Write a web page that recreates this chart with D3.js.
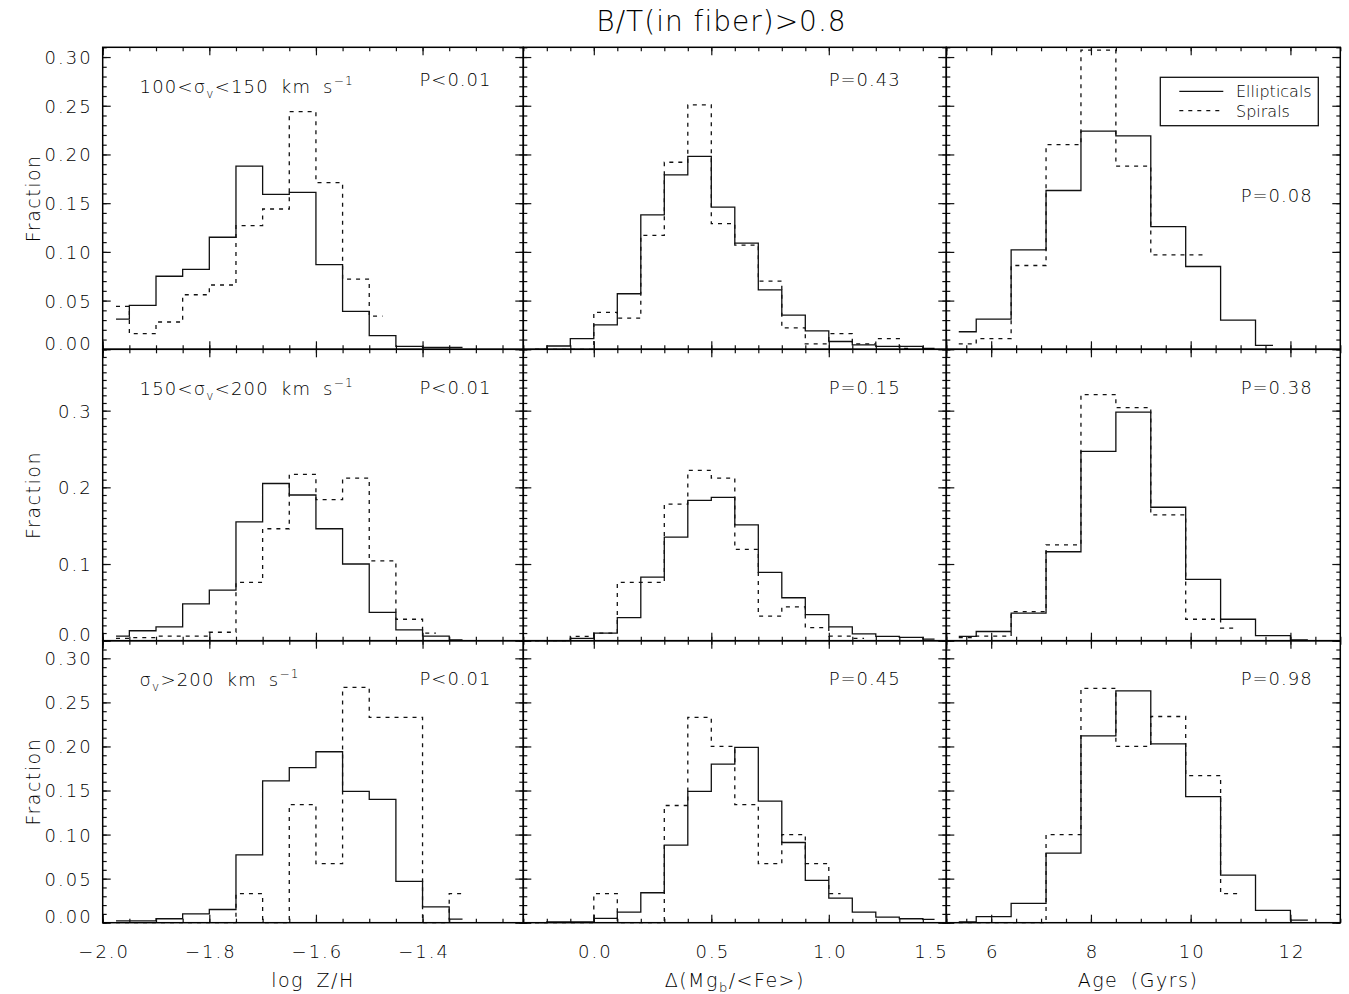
<!DOCTYPE html>
<html>
<head>
<meta charset="utf-8">
<script src="https://cdn.jsdelivr.net/npm/d3@7"></script>
<style>
  html, body { margin: 0; padding: 0; background: #fff; }
  svg text { font-family: "DejaVu Sans", "Liberation Sans", sans-serif; fill: #000; font-weight: 300; }
</style>
</head>
<body>
<div id="chart"></div>
<script>
'use strict';

// bin centres of each column (histograms drawn in step mode)
const zhBins  = [-1.975, -1.925, -1.875, -1.825, -1.775, -1.725, -1.675, -1.625, -1.575, -1.525, -1.475, -1.425, -1.375, -1.325];
const mgBins  = [-0.25, -0.15, -0.05, 0.05, 0.15, 0.25, 0.35, 0.45, 0.55, 0.65, 0.75, 0.85, 0.95, 1.05, 1.15, 1.25, 1.35, 1.45];
const ageBins = [5.35, 6.05, 6.75, 7.45, 8.15, 8.85, 9.55, 10.25, 10.95, 11.65, 12.35];

// row 1: 100 < sigma < 150
const ellZh1  = [0.031, 0.045, 0.075, 0.082, 0.115, 0.188, 0.159, 0.161, 0.087, 0.039, 0.014, 0.003, 0.002, 0.002];
const spiZh1  = [0.044, 0.016, 0.028, 0.056, 0.066, 0.127, 0.144, 0.244, 0.171, 0.072, 0.034];
const ellMg1  = [0, 0.0034, 0.011, 0.025, 0.057, 0.138, 0.179, 0.198, 0.146, 0.109, 0.061, 0.035, 0.019, 0.008, 0.0045, 0.003, 0.003, 0.001];
const spiMg1  = [0, 0, 0, 0.038, 0.032, 0.117, 0.192, 0.251, 0.129, 0.107, 0.070, 0.022, 0.0055, 0.016, 0.0055, 0.011, 0.001];
const ellAge1 = [0.018, 0.031, 0.102, 0.163, 0.224, 0.219, 0.126, 0.085, 0.030, 0.004];
const spiAge1 = [0.0055, 0.011, 0.086, 0.210, 0.307, 0.188, 0.097, 0.097];

// row 2: 150 < sigma < 200
const ellZh2  = [0.006, 0.013, 0.018, 0.048, 0.066, 0.155, 0.205, 0.190, 0.146, 0.100, 0.037, 0.014, 0.006, 0.001];
const spiZh2  = [0.003, 0.004, 0.006, 0.006, 0.011, 0.076, 0.146, 0.217, 0.184, 0.212, 0.104, 0.028, 0.010];
const ellMg2  = [0, 0, 0.003, 0.010, 0.030, 0.083, 0.135, 0.183, 0.187, 0.151, 0.089, 0.056, 0.034, 0.018, 0.009, 0.0057, 0.0043, 0.002];
const spiMg2  = [0, 0, 0.0057, 0.010, 0.076, 0.076, 0.178, 0.222, 0.212, 0.119, 0.032, 0.044, 0.017, 0.006, 0.003];
const ellAge2 = [0.0057, 0.012, 0.036, 0.116, 0.247, 0.298, 0.174, 0.080, 0.028, 0.0065, 0.001];
const spiAge2 = [0.004, 0.006, 0.038, 0.125, 0.321, 0.304, 0.164, 0.028, 0.0165];

// row 3: sigma > 200
const ellZh3  = [0.002, 0.002, 0.0045, 0.010, 0.015, 0.077, 0.161, 0.176, 0.194, 0.149, 0.140, 0.047, 0.018, 0.004];
const spiZh3  = [0, 0, 0, 0, 0, 0.033, 0, 0.134, 0.067, 0.267, 0.233, 0.233, 0, 0.033];
const ellMg3  = [0, 0.001, 0.001, 0.005, 0.012, 0.034, 0.088, 0.149, 0.180, 0.199, 0.138, 0.091, 0.048, 0.028, 0.012, 0.0064, 0.0045, 0.0038];
const spiMg3  = [0, 0, 0, 0.033, 0, 0, 0.133, 0.233, 0.200, 0.134, 0.067, 0.100, 0.067, 0.033];
const ellAge3 = [0.001, 0.007, 0.022, 0.079, 0.212, 0.263, 0.203, 0.143, 0.054, 0.014, 0.003];
const spiAge3 = [0, 0, 0, 0.100, 0.266, 0.200, 0.234, 0.167, 0.033];

// tick labels
const zhTicks  = [-2.0, -1.8, -1.6, -1.4];
const mgTicks  = [0.0, 0.5, 1.0, 1.5];
const ageTicks = [6, 8, 10, 12];
const fracTicksA = [0.00, 0.05, 0.10, 0.15, 0.20, 0.25, 0.30];
const fracTicksB = [0.0, 0.1, 0.2, 0.3];

const pValues = [
  ['P<0.01', 'P=0.43', 'P=0.08'],
  ['P<0.01', 'P=0.15', 'P=0.38'],
  ['P<0.01', 'P=0.45', 'P=0.98'],
];
// [before subscript, subscript, after, superscript]
const rowLabels = [
  ['100<σ', 'v', '<150 km s', '−1'],
  ['150<σ', 'v', '<200 km s', '−1'],
  ['σ', 'v', '>200 km s', '−1'],
];
const seriesNames = ['Ellipticals', 'Spirals'];

const W = 1349, H = 994;

const COLS = [
  { x0: 102.7, x1: 523.3, domain: [-2.0, -1.211], bins: zhBins, ticks: zhTicks, minor: 0.05, fmt: '.1f', title: 'log Z/H', pRight: 491.5 },
  { x0: 523.3, x1: 946.3, domain: [-0.3, 1.5], bins: mgBins, ticks: mgTicks, minor: 0.1, fmt: '.1f', title: null, pRight: 900.7 },
  { x0: 946.3, x1: 1340.3, domain: [5.1, 13.0], bins: ageBins, ticks: ageTicks, minor: 0.5, fmt: 'd', title: 'Age (Gyrs)', pRight: 1312.7 },
];
const ROWS = [
  { y0: 47.3,  y1: 349.3, domain: [0, 0.31], ticks: fracTicksA, fmt: '.2f' },
  { y0: 349.3, y1: 640.7, domain: [0, 0.38], ticks: fracTicksB, fmt: '.1f' },
  { y0: 640.7, y1: 922.7, domain: [0, 0.32], ticks: fracTicksA, fmt: '.2f' },
];

const ELL = [[ellZh1, ellMg1, ellAge1], [ellZh2, ellMg2, ellAge2], [ellZh3, ellMg3, ellAge3]];
const SPI = [[spiZh1, spiMg1, spiAge1], [spiZh2, spiMg2, spiAge2], [spiZh3, spiMg3, spiAge3]];

const svg = d3.select('#chart').append('svg')
  .attr('width', W).attr('height', H)
  .attr('viewBox', `0 0 ${W} ${H}`);

function tickMarks(g, axisFn, scale, values, size, transform) {
  g.append('g')
    .attr('transform', transform)
    .attr('color', '#111')
    .call(axisFn(scale).tickValues(values).tickSize(size).tickSizeOuter(0).tickFormat(''))
    .call(s => s.select('.domain').remove())
    .call(s => s.selectAll('line').attr('stroke-width', 1.2));
}

function drawPanel(r, c) {
  const col = COLS[c], row = ROWS[r];
  const x = d3.scaleLinear().domain(col.domain).range([col.x0, col.x1]);
  const y = d3.scaleLinear().domain(row.domain).range([row.y1, row.y0]);
  const g = svg.append('g').attr('class', `panel r${r} c${c}`);

  // ticks on all four sides, pointing inward
  const xMinor = d3.range(Math.ceil(col.domain[0] / col.minor - 1e-6), Math.floor(col.domain[1] / col.minor + 1e-6) + 1)
    .map(i => +(i * col.minor).toFixed(4));
  const yMinor = d3.range(0, Math.floor(row.domain[1] / 0.01 + 1e-6) + 1).map(i => +(i * 0.01).toFixed(4));

  tickMarks(g, d3.axisBottom, x, xMinor, -4, `translate(0,${row.y1})`);
  tickMarks(g, d3.axisBottom, x, col.ticks, -8, `translate(0,${row.y1})`);
  tickMarks(g, d3.axisTop, x, xMinor, -4, `translate(0,${row.y0})`);
  tickMarks(g, d3.axisTop, x, col.ticks, -8, `translate(0,${row.y0})`);
  tickMarks(g, d3.axisLeft, y, yMinor, -4, `translate(${col.x0},0)`);
  tickMarks(g, d3.axisLeft, y, row.ticks, -8, `translate(${col.x0},0)`);
  tickMarks(g, d3.axisRight, y, yMinor, -4, `translate(${col.x1},0)`);
  tickMarks(g, d3.axisRight, y, row.ticks, -8, `translate(${col.x1},0)`);

  // y tick labels on first column
  if (c === 0) {
    const ax = g.append('g')
      .attr('transform', `translate(${col.x0},0)`)
      .call(d3.axisLeft(y).tickValues(row.ticks).tickSize(0).tickPadding(10).tickFormat(d3.format(row.fmt)));
    ax.select('.domain').remove();
    ax.selectAll('text')
      .style('font-size', '18px')
      .style('letter-spacing', '2px')
      .attr('dy', d => d === row.domain[0] ? '0' : '0.36em');
  }

  // x tick labels on bottom row
  if (r === 2) {
    const ax = g.append('g')
      .attr('transform', `translate(0,${row.y1})`)
      .call(d3.axisBottom(x).tickValues(col.ticks).tickSize(0).tickFormat(d3.format(col.fmt)));
    ax.select('.domain').remove();
    ax.selectAll('text')
      .style('font-size', '18px')
      .style('letter-spacing', '2px')
      .attr('y', 35.8).attr('dy', 0)
      .attr('text-anchor', d => d === col.domain[1] ? 'end' : 'middle')
      .attr('x', d => d === col.domain[1] ? 2 : 1);
  }

  // histograms
  const line = d3.line()
    .x(d => x(d[0]))
    .y(d => y(d[1]))
    .curve(d3.curveStep);

  const ell = ELL[r][c].map((v, i) => [col.bins[i], v]);
  const spi = SPI[r][c].map((v, i) => [col.bins[i], v]);

  g.append('path').datum(spi)
    .attr('d', line)
    .attr('fill', 'none')
    .attr('stroke', '#111')
    .attr('stroke-width', 1.3)
    .attr('stroke-dasharray', '4,5');

  g.append('path').datum(ell)
    .attr('d', line)
    .attr('fill', 'none')
    .attr('stroke', '#111')
    .attr('stroke-width', 1.3);

  // frame
  g.append('rect')
    .attr('x', col.x0).attr('y', row.y0)
    .attr('width', col.x1 - col.x0).attr('height', row.y1 - row.y0)
    .attr('fill', 'none')
    .attr('stroke', '#000')
    .attr('stroke-width', 1.5);

  // P value
  let pBase = row.y0 + 44.3;
  if (r === 0) pBase = c === 2 ? 201.7 : 86;
  g.append('text')
    .attr('x', col.pRight).attr('y', pBase)
    .attr('text-anchor', 'end')
    .style('font-size', '18px')
    .style('letter-spacing', '1px')
    .text(pValues[r][c]);

  // velocity dispersion label in first column
  if (c === 0) {
    const lab = rowLabels[r];
    const t = g.append('text')
      .attr('x', 139.5).attr('y', row.y0 + 45.5)
      .style('font-size', '18px')
      .style('letter-spacing', '1.2px')
      .style('word-spacing', '5px');
    t.append('tspan').text(lab[0]);
    t.append('tspan').attr('dy', 5).style('font-size', '12px').text(lab[1]);
    t.append('tspan').attr('dy', -5).text(lab[2]);
    t.append('tspan').attr('dy', -8).style('font-size', '12px').text(lab[3]);
  }
}

for (let r = 0; r < 3; r++) {
  for (let c = 0; c < 3; c++) drawPanel(r, c);
}

// y axis titles
ROWS.forEach(row => {
  const cy = (row.y0 + row.y1) / 2;
  svg.append('text')
    .attr('transform', `translate(40,${cy}) rotate(-90)`)
    .attr('text-anchor', 'middle')
    .style('font-size', '19px')
    .style('letter-spacing', '1.5px')
    .text('Fraction');
});

// x axis titles
const xTitleY = 987;
svg.append('text')
  .attr('x', (COLS[0].x0 + COLS[0].x1) / 2).attr('y', xTitleY)
  .attr('text-anchor', 'middle')
  .style('font-size', '19px').style('letter-spacing', '1.5px').style('word-spacing', '5px')
  .text(COLS[0].title);

const mgTitle = svg.append('text')
  .attr('x', (COLS[1].x0 + COLS[1].x1) / 2).attr('y', xTitleY)
  .attr('text-anchor', 'middle')
  .style('font-size', '19px').style('letter-spacing', '1.5px');
mgTitle.append('tspan').text('Δ(Mg');
mgTitle.append('tspan').attr('dy', 5).style('font-size', '13px').text('b');
mgTitle.append('tspan').attr('dy', -5).text('/<Fe>)');

svg.append('text')
  .attr('x', 1138).attr('y', xTitleY)
  .attr('text-anchor', 'middle')
  .style('font-size', '19px').style('letter-spacing', '1.5px').style('word-spacing', '5px')
  .text(COLS[2].title);

// title
svg.append('text')
  .attr('x', (COLS[0].x0 + COLS[2].x1) / 2).attr('y', 31)
  .attr('text-anchor', 'middle')
  .style('font-size', '28px')
  .style('letter-spacing', '1px')
  .text('B/T(in fiber)>0.8');

// legend (top right panel)
const leg = svg.append('g').attr('class', 'legend');
leg.append('rect')
  .attr('x', 1160.3).attr('y', 77.3).attr('width', 158).attr('height', 48.4)
  .attr('fill', '#fff').attr('stroke', '#111').attr('stroke-width', 1.3);
seriesNames.forEach((name, i) => {
  const ly = 91.3 + i * 19.4;
  leg.append('line')
    .attr('x1', 1179.3).attr('x2', 1223.3).attr('y1', ly).attr('y2', ly)
    .attr('stroke', '#111').attr('stroke-width', 1.3)
    .attr('stroke-dasharray', i === 1 ? '4,5' : null);
  leg.append('text')
    .attr('x', 1236).attr('y', ly + 6)
    .style('font-size', '16px')
    .text(name);
});
</script>
</body>
</html>
